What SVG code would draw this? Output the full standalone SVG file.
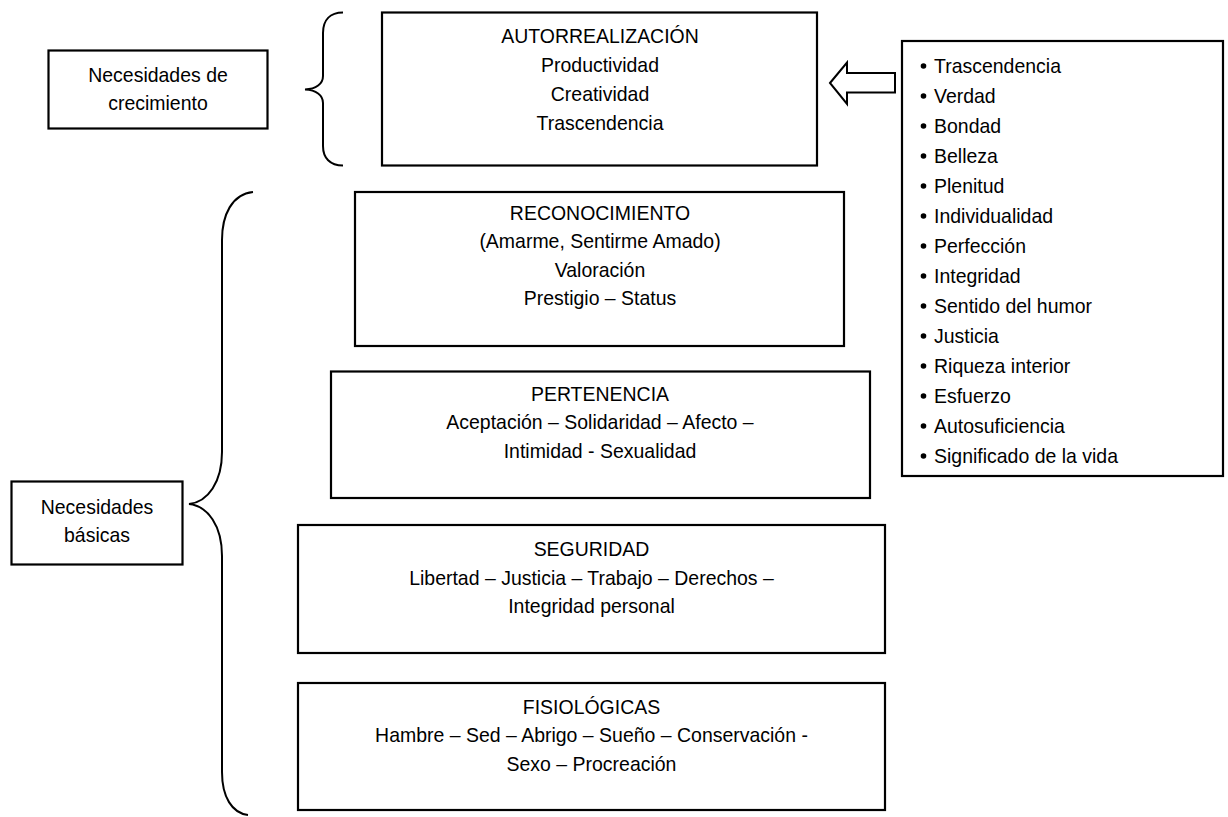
<svg xmlns="http://www.w3.org/2000/svg" width="1228" height="817" viewBox="0 0 1228 817">
<style>
.box{fill:#fff;stroke:#000;stroke-width:2.2}
.br{fill:none;stroke:#000;stroke-width:2}
text{font-family:"Liberation Sans",Arial,sans-serif;font-size:20.5px;fill:#000}
.c{text-anchor:middle}
.bul{fill:#000}
</style>
<defs>
<clipPath id="listclip"><rect x="903" y="42" width="319" height="425"/></clipPath>
</defs>
<rect width="1228" height="817" fill="#fff"/>
<g id="connectors">
<path class="br" d="M343,12.5 C330,12.5 323,20 323,33 L323,76 C323,84 316,89 305,89.5 C316,90 323,95 323,103 L323,146 C323,158 330,165.5 343,165.5"/>
<path class="br" d="M253,192 C232,194 222,215 222,240 L222,452 C222,482 208,502 189,504 C208,506 222,526 222,556 L222,772 C222,797 232,813 248,815"/>
<polygon class="br" points="830,83 847,62.5 847,73 895,73 895,92.5 847,92.5 847,104"/>
</g>
<g id="node-crecimiento">
<rect class="box" x="48.5" y="50.5" width="219" height="78"/>
<g transform="translate(158 0) scale(0.95 1)">
<text class="c" x="0" y="82">Necesidades de</text>
<text class="c" x="0" y="110">crecimiento</text>
</g>
</g>
<g id="node-autorrealizacion">
<rect class="box" x="382" y="12.5" width="435" height="153"/>
<g transform="translate(600 0) scale(0.95 1)">
<text class="c" x="0" y="43">AUTORREALIZACIÓN</text>
<text class="c" x="0" y="72">Productividad</text>
<text class="c" x="0" y="101">Creatividad</text>
<text class="c" x="0" y="130">Trascendencia</text>
</g>
</g>
<g id="node-valores">
<rect class="box" x="902" y="41" width="321" height="435"/>
<g clip-path="url(#listclip)">
<circle class="bul" cx="923.5" cy="66" r="2.8"/>
<circle class="bul" cx="923.5" cy="96" r="2.8"/>
<circle class="bul" cx="923.5" cy="126" r="2.8"/>
<circle class="bul" cx="923.5" cy="156" r="2.8"/>
<circle class="bul" cx="923.5" cy="186" r="2.8"/>
<circle class="bul" cx="923.5" cy="216" r="2.8"/>
<circle class="bul" cx="923.5" cy="246" r="2.8"/>
<circle class="bul" cx="923.5" cy="276" r="2.8"/>
<circle class="bul" cx="923.5" cy="306" r="2.8"/>
<circle class="bul" cx="923.5" cy="336" r="2.8"/>
<circle class="bul" cx="923.5" cy="366" r="2.8"/>
<circle class="bul" cx="923.5" cy="396" r="2.8"/>
<circle class="bul" cx="923.5" cy="426" r="2.8"/>
<circle class="bul" cx="923.5" cy="456" r="2.8"/>
<g transform="translate(934 0) scale(0.95 1)">
<text x="0" y="73.5">Trascendencia</text>
<text x="0" y="103.5">Verdad</text>
<text x="0" y="133.5">Bondad</text>
<text x="0" y="163.5">Belleza</text>
<text x="0" y="193.5">Plenitud</text>
<text x="0" y="223.5">Individualidad</text>
<text x="0" y="253.5">Perfección</text>
<text x="0" y="283.5">Integridad</text>
<text x="0" y="313.5">Sentido del humor</text>
<text x="0" y="343.5">Justicia</text>
<text x="0" y="373.5">Riqueza interior</text>
<text x="0" y="403.5">Esfuerzo</text>
<text x="0" y="433.5">Autosuficiencia</text>
<text x="0" y="463.5">Significado de la vida</text>
</g>
</g>
</g>
<g id="node-reconocimiento">
<rect class="box" x="355" y="192" width="489" height="154"/>
<g transform="translate(600 0) scale(0.95 1)">
<text class="c" x="0" y="220">RECONOCIMIENTO</text>
<text class="c" x="0" y="248.5">(Amarme, Sentirme Amado)</text>
<text class="c" x="0" y="277">Valoración</text>
<text class="c" x="0" y="305">Prestigio – Status</text>
</g>
</g>
<g id="node-pertenencia">
<rect class="box" x="331" y="371.5" width="539" height="126.5"/>
<g transform="translate(600 0) scale(0.95 1)">
<text class="c" x="0" y="401">PERTENENCIA</text>
<text class="c" x="0" y="429.5">Aceptación – Solidaridad – Afecto –</text>
<text class="c" x="0" y="458">Intimidad - Sexualidad</text>
</g>
</g>
<g id="node-basicas">
<rect class="box" x="11.5" y="481.5" width="171" height="83"/>
<g transform="translate(97 0) scale(0.95 1)">
<text class="c" x="0" y="514">Necesidades</text>
<text class="c" x="0" y="542.5">básicas</text>
</g>
</g>
<g id="node-seguridad">
<rect class="box" x="298" y="525" width="587" height="128"/>
<g transform="translate(591.5 0) scale(0.95 1)">
<text class="c" x="0" y="556.5">SEGURIDAD</text>
<text class="c" x="0" y="585">Libertad – Justicia – Trabajo – Derechos –</text>
<text class="c" x="0" y="613.5">Integridad personal</text>
</g>
</g>
<g id="node-fisiologicas">
<rect class="box" x="298" y="683" width="587" height="127"/>
<g transform="translate(591.5 0) scale(0.95 1)">
<text class="c" x="0" y="714">FISIOLÓGICAS</text>
<text class="c" x="0" y="742.5">Hambre – Sed – Abrigo – Sueño – Conservación -</text>
<text class="c" x="0" y="771">Sexo – Procreación</text>
</g>
</g>
</svg>
